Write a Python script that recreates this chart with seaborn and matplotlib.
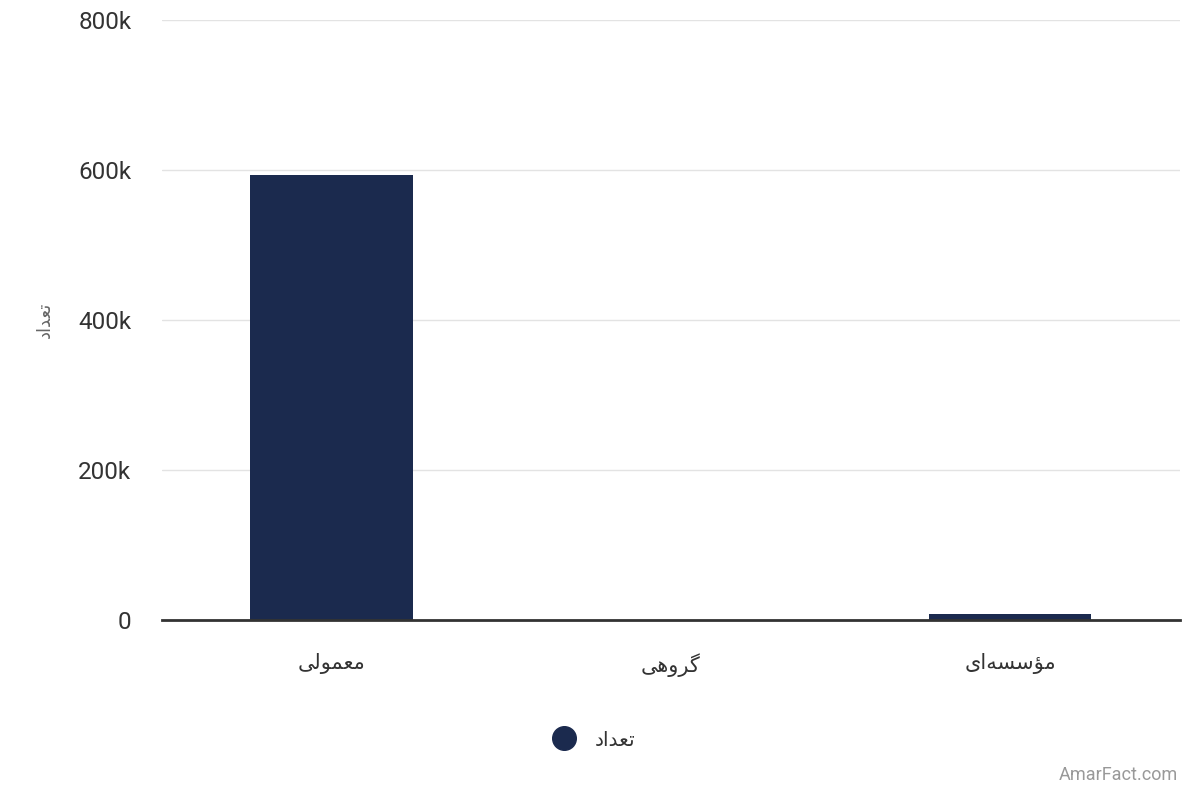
import matplotlib
matplotlib.use("Agg")
import matplotlib.pyplot as plt
import seaborn as sns
import pandas as pd
from matplotlib.lines import Line2D

# Data (labels pre-shaped with Arabic presentation forms, visual order)
categories = ["\uFEF0\uFEDF\uFEEE\uFEE4\uFECC\uFEE3",          # معمولی
              "\uFEF0\uFEEB\uFEED\uFEAE\uFB94",                # گروهی
              "\uFEEF\uFE8D\uFEEA\uFEB4\uFEB3\uFE86\uFEE3"]    # مؤسسه‌ای
values = [594000, 300, 8500]
series_name = "\uFEA9\uFE8D\uFEAA\uFECC\uFE97"                 # تعداد
yticks = [0, 200000, 400000, 600000, 800000]
ytick_labels = ["0", "200k", "400k", "600k", "800k"]

sns.set_theme(style="white")
plt.rcParams['font.family'] = ['Roboto', 'DejaVu Sans']

df = pd.DataFrame({"cat": categories, "val": values})

fig = plt.figure(figsize=(12, 8), dpi=100)
ax = fig.add_axes([0.135, 0.225, 0.848, 0.75])
bar_color = "#1b2a4e"
sns.barplot(data=df, x="cat", y="val", color=bar_color, width=0.48,
            saturation=1, ax=ax, zorder=3, edgecolor=bar_color, linewidth=0)

ax.set_ylim(0, 800000)
ax.set_yticks(yticks)
ax.set_yticklabels(ytick_labels, fontsize=17.5, color="#333333")
ax.tick_params(axis="y", length=0, pad=22)
ax.tick_params(axis="x", length=0, pad=24)
for lab in ax.get_xticklabels():
    lab.set_fontfamily(['DejaVu Sans'])
    lab.set_fontsize(15)
    lab.set_color("#333333")
ax.set_xlabel("")
ax.set_ylabel("")
ax.grid(axis="y", color="#e3e3e3", linewidth=1, zorder=0)
for s in ["top", "right", "left"]:
    ax.spines[s].set_visible(False)
ax.spines["bottom"].set_color("#333333")
ax.spines["bottom"].set_linewidth(2)
ax.spines["bottom"].set_zorder(4)

# y axis title (rotated, light)
fig.text(0.037, 0.6, series_name, rotation=90, fontsize=13, color="#666666",
         ha="center", va="center", family=['DejaVu Sans'])

# legend
handle = Line2D([], [], marker="o", linestyle="none", markersize=17,
                markerfacecolor=bar_color, markeredgecolor=bar_color)
leg = fig.legend([handle], [series_name], loc="center", bbox_to_anchor=(0.4915, 0.075),
                 frameon=False, handletextpad=0.55,
                 prop={'family': ['DejaVu Sans'], 'size': 14.5})
for t in leg.get_texts():
    t.set_color("#333333")

fig.text(0.982, 0.02, "AmarFact.com", ha="right", va="bottom", fontsize=13,
         color="#999999")

fig.savefig("out.png", dpi=100)
